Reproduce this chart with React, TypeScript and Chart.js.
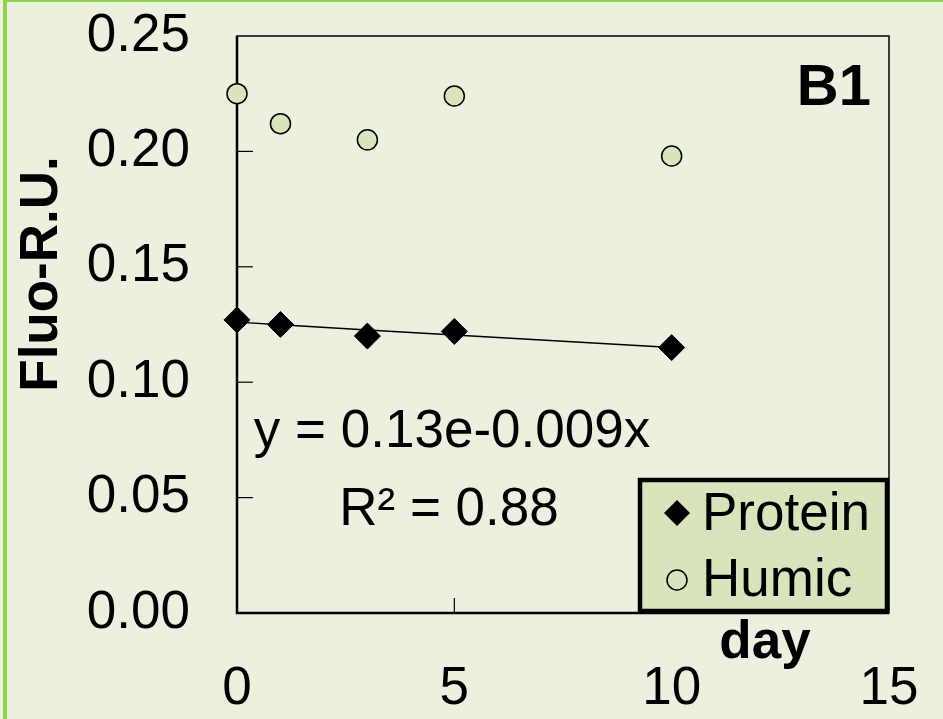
import React, { useEffect, useRef } from "react";
import { Chart, registerables } from "chart.js";

Chart.register(...registerables);

const days = [0, 1, 3, 5, 10];
const protein = [0.127, 0.125, 0.12, 0.122, 0.115];
const humic = [0.225, 0.212, 0.205, 0.224, 0.198];
const xTicks = [0, 5, 10, 15];
const yTicks = [0, 0.05, 0.1, 0.15, 0.2, 0.25];
const equationText = "y = 0.13e-0.009x";
const r2Text = "R\u00b2 = 0.88";
const yTitle = "Fluo-R.U.";
const xTitle = "day";
const panelLabel = "B1";
const legendLabels = ["Protein", "Humic"];

const BG = "#ecf0de";
const GREEN = "#92d050";
const LIGHT = "#d8e4bc";
const FONT = "'Liberation Sans', Arial, sans-serif";
const FS = 53;

// exponential (Excel-style) trendline fitted to the protein values
function expFit(xs: number[], ys: number[]) {
  const n = xs.length;
  const ly = ys.map((v) => Math.log(v));
  const mx = xs.reduce((a, b) => a + b, 0) / n;
  const my = ly.reduce((a, b) => a + b, 0) / n;
  let sxy = 0, sxx = 0;
  for (let i = 0; i < n; i++) {
    sxy += (xs[i] - mx) * (ly[i] - my);
    sxx += (xs[i] - mx) * (xs[i] - mx);
  }
  const b = sxy / sxx;
  const a = Math.exp(my - b * mx);
  return (x: number) => a * Math.exp(b * x);
}

const decor = {
  id: "decor",
  beforeDraw(chart: any) {
    const ctx = chart.ctx;
    ctx.save();
    ctx.fillStyle = BG;
    ctx.fillRect(0, 0, chart.width, chart.height);
    ctx.fillStyle = GREEN;
    ctx.fillRect(3, 0, 4, chart.height);
    ctx.fillRect(3, 0, chart.width, 2);
    ctx.restore();
  },
  beforeDatasetsDraw(chart: any) {
    const { ctx, chartArea: a, scales } = chart;
    ctx.save();
    ctx.strokeStyle = "#000";
    ctx.lineWidth = 1.5;
    ctx.strokeRect(a.left, a.top, a.right - a.left, a.bottom - a.top);
    ctx.lineWidth = 2.5;
    ctx.beginPath();
    ctx.moveTo(a.left, a.top);
    ctx.lineTo(a.left, a.bottom);
    ctx.lineTo(a.right, a.bottom);
    ctx.stroke();
    ctx.lineWidth = 1.2;
    yTicks.forEach((v) => {
      if (v <= yTicks[0] || v >= yTicks[yTicks.length - 1]) return;
      const y = scales.y.getPixelForValue(v);
      ctx.beginPath();
      ctx.moveTo(a.left, y);
      ctx.lineTo(a.left + 16, y);
      ctx.stroke();
    });
    xTicks.forEach((v) => {
      if (v <= xTicks[0] || v >= xTicks[xTicks.length - 1]) return;
      const x = scales.x.getPixelForValue(v);
      ctx.beginPath();
      ctx.moveTo(x, a.bottom);
      ctx.lineTo(x, a.bottom - 15);
      ctx.stroke();
    });
    ctx.restore();
  },
  afterDraw(chart: any) {
    const { ctx, chartArea: a } = chart;
    ctx.save();
    ctx.fillStyle = "#000";
    // y title
    ctx.save();
    ctx.translate(42, 274);
    ctx.rotate(-Math.PI / 2);
    ctx.font = `bold ${FS}px ${FONT}`;
    ctx.textAlign = "center";
    ctx.textBaseline = "middle";
    ctx.fillText(yTitle, 0, 0);
    ctx.restore();
    // x title
    ctx.font = `bold ${FS}px ${FONT}`;
    ctx.textAlign = "center";
    ctx.textBaseline = "alphabetic";
    ctx.fillText(xTitle, 765, 658);
    // panel label
    ctx.font = `bold 58px ${FONT}`;
    ctx.textAlign = "right";
    ctx.fillText(panelLabel, 871, 105);
    // equation
    ctx.font = `${FS}px ${FONT}`;
    ctx.textAlign = "center";
    ctx.fillText(equationText, 452, 447);
    ctx.fillText(r2Text, 449, 525);
    // legend
    const lw = 251, lh = 135;
    const lx = a.right - lw, ly = a.bottom - lh;
    ctx.fillStyle = LIGHT;
    ctx.fillRect(lx, ly, lw, lh);
    ctx.strokeStyle = "#000";
    ctx.lineWidth = 4.5;
    ctx.strokeRect(lx + 2, ly + 2, lw - 4, lh - 4);
    // diamond
    const mx = lx + 39;
    const y1 = ly + 35, y2 = ly + 102;
    ctx.fillStyle = "#000";
    ctx.beginPath();
    ctx.moveTo(mx, y1 - 13);
    ctx.lineTo(mx + 13, y1);
    ctx.lineTo(mx, y1 + 13);
    ctx.lineTo(mx - 13, y1);
    ctx.closePath();
    ctx.fill();
    // circle
    ctx.beginPath();
    ctx.arc(mx, y2, 10, 0, Math.PI * 2);
    ctx.fillStyle = LIGHT;
    ctx.fill();
    ctx.lineWidth = 1.5;
    ctx.stroke();
    ctx.fillStyle = "#000";
    ctx.font = `${FS}px ${FONT}`;
    ctx.textAlign = "left";
    ctx.fillText(legendLabels[0], lx + 64, ly + 52);
    ctx.fillText(legendLabels[1], lx + 64, ly + 118);
    ctx.restore();
  },
};

function zeroPad(s: any) {
  s.paddingTop = 0;
  s.paddingBottom = 0;
  s.paddingLeft = 0;
  s.paddingRight = 0;
}

export default function App() {
  const ref = useRef<HTMLCanvasElement | null>(null);
  useEffect(() => {
    if (!ref.current) return;
    const fit = expFit(days, protein);
    const trend = days.map((d) => ({ x: d, y: fit(d) }));
    const chart = new Chart(ref.current, {
      type: "scatter",
      data: {
        datasets: [
          {
            type: "line",
            label: "trend",
            data: trend,
            borderColor: "#000",
            borderWidth: 1.5,
            pointRadius: 0,
            showLine: true,
            fill: false,
            clip: false,
          } as any,
          {
            label: legendLabels[0],
            data: days.map((d, i) => ({ x: d, y: protein[i] })),
            pointStyle: "rectRot",
            pointRadius: 13,
            backgroundColor: "#000",
            borderColor: "#000",
            borderWidth: 1,
            clip: false,
          } as any,
          {
            label: legendLabels[1],
            data: days.map((d, i) => ({ x: d, y: humic[i] })),
            pointStyle: "circle",
            pointRadius: 10,
            backgroundColor: LIGHT,
            borderColor: "#000",
            borderWidth: 1.5,
            clip: false,
          } as any,
        ],
      },
      options: {
        animation: false,
        responsive: false,
        maintainAspectRatio: false,
        layout: { padding: { left: 0, top: 36, right: 54, bottom: 0 } },
        plugins: { legend: { display: false }, tooltip: { enabled: false } },
        scales: {
          x: {
            type: "linear",
            min: xTicks[0],
            max: xTicks[xTicks.length - 1],
            afterBuildTicks: (s: any) => {
              s.ticks = xTicks.map((v) => ({ value: v }));
            },
            ticks: {
              font: { size: FS, family: FONT },
              color: "#000",
              padding: 45,
              maxRotation: 0,
              autoSkip: false,
            },
            grid: { display: false, drawTicks: false },
            border: { display: false },
            afterFit: (s: any) => {
              s.height = 106;
              zeroPad(s);
            },
          },
          y: {
            type: "linear",
            min: yTicks[0],
            max: yTicks[yTicks.length - 1],
            afterBuildTicks: (s: any) => {
              s.ticks = yTicks.map((v) => ({ value: v }));
            },
            ticks: {
              font: { size: FS, family: FONT },
              color: "#000",
              padding: 47,
              callback: (v: any) => Number(v).toFixed(2),
            },
            grid: { display: false, drawTicks: false },
            border: { display: false },
            afterFit: (s: any) => {
              s.width = 237;
              zeroPad(s);
            },
          },
        },
      },
      plugins: [decor],
    });
    return () => chart.destroy();
  }, []);
  return (
    <div style={{ position: "absolute", left: 0, top: 0, width: 943, height: 719, background: BG }}>
      <canvas ref={ref} width={943} height={719} style={{ display: "block", width: 943, height: 719 }} />
    </div>
  );
}
